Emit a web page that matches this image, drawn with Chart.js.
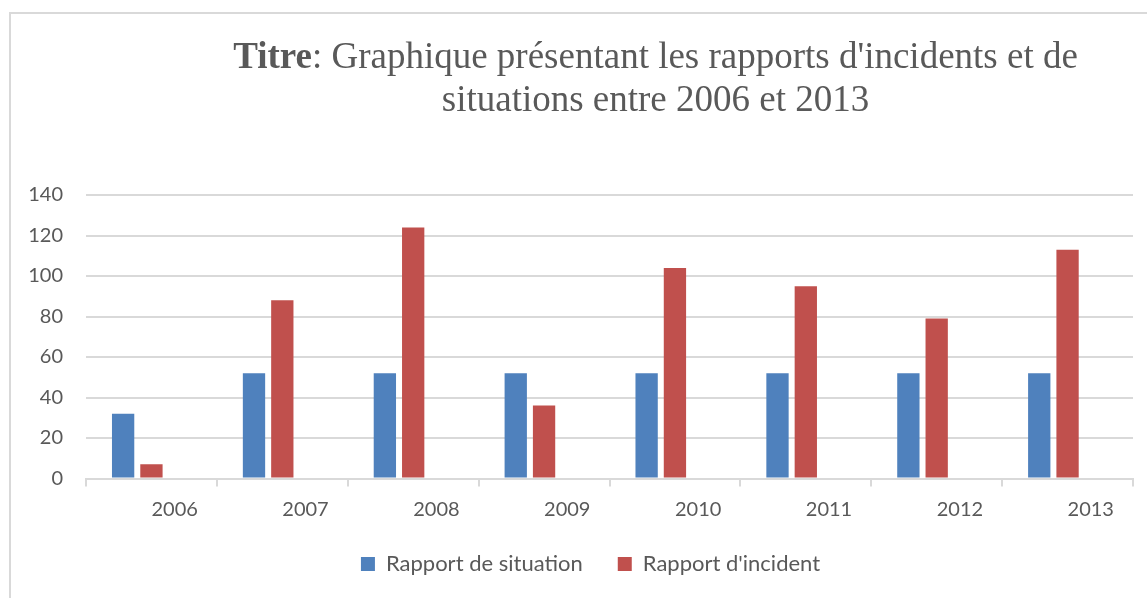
<!DOCTYPE html>
<html>
<head>
<meta charset="utf-8">
<script src="https://cdn.jsdelivr.net/npm/chart.js@4.4.1/dist/chart.umd.min.js"></script>
<style>
  html, body { margin: 0; padding: 0; background: #fff; overflow: hidden; }
  #wrap { position: relative; width: 1147px; height: 598px; }
</style>
</head>
<body>
<div id="wrap"><canvas id="c"></canvas></div>
<script>
// ---- data ----
const years = ['2006', '2007', '2008', '2009', '2010', '2011', '2012', '2013'];
const rapportSituation = [32, 52, 52, 52, 52, 52, 52, 52];
const rapportIncident = [7, 88, 124, 36, 104, 95, 79, 113];
const emptySeries = [null, null, null, null, null, null, null, null];
const seriesNames = ['Rapport de situation', "Rapport d'incident"];
const yTicksMax = 140;
const yTicksStep = 20;
const titleBold = 'Titre';
const titleRest = ": Graphique présentant les rapports d'incidents et de";
const titleLine2 = 'situations entre 2006 et 2013';

const GREY_TEXT = '#595959';
const GRID = '#d9d9d9';
const FONT = 'Lato';

const framePlugin = {
  id: 'frame',
  beforeDraw(chart) {
    const ctx = chart.ctx;
    ctx.save();
    ctx.fillStyle = '#ffffff';
    ctx.fillRect(0, 0, chart.width, chart.height);
    ctx.strokeStyle = GRID;
    ctx.lineWidth = 2;
    ctx.beginPath();
    ctx.moveTo(10, chart.height);
    ctx.lineTo(10, 13);
    ctx.lineTo(chart.width, 13);
    ctx.stroke();
    ctx.restore();
  },
  afterLayout(chart) {
    const lg = chart.legend;
    if (lg) { lg.left -= 19; lg.right -= 19; }
  },
  afterDraw(chart) {
    const ctx = chart.ctx;
    ctx.save();
    ctx.fillStyle = GREY_TEXT;
    ctx.textBaseline = 'alphabetic';
    ctx.textAlign = 'left';
    const cx = 655.5;
    ctx.font = 'bold 37px "Liberation Serif"';
    const wB = ctx.measureText(titleBold).width;
    ctx.font = '37px "Liberation Serif"';
    const wR = ctx.measureText(titleRest).width;
    let x = cx - (wB + wR) / 2;
    ctx.font = 'bold 37px "Liberation Serif"';
    ctx.fillText(titleBold, x, 68);
    ctx.font = '37px "Liberation Serif"';
    ctx.fillText(titleRest, x + wB, 68);
    ctx.textAlign = 'center';
    ctx.fillText(titleLine2, cx, 110.5);
    ctx.restore();
  }
};

new Chart(document.getElementById('c'), {
  type: 'bar',
  data: {
    labels: years,
    datasets: [
      { label: seriesNames[0], data: rapportSituation, backgroundColor: '#4f81bd' },
      { label: seriesNames[1], data: rapportIncident, backgroundColor: '#c0504d' },
      { label: '', data: emptySeries, backgroundColor: 'rgba(0,0,0,0)' }
    ]
  },
  options: {
    responsive: true,
    maintainAspectRatio: false,
    animation: false,
    devicePixelRatio: 1,
    layout: { padding: { left: 0, right: 14, top: 195, bottom: 13 } },
    datasets: { bar: { categoryPercentage: 0.649, barPercentage: 0.788 } },
    scales: {
      x: {
        afterFit(scale) { scale.height = 39.5; },
        grid: { display: true, drawOnChartArea: false, drawTicks: true, tickLength: 8, color: GRID, lineWidth: 2, offset: true },
        border: { display: true, color: GRID, width: 2 },
        ticks: { align: 'start', padding: 11, color: GREY_TEXT, font: { family: FONT, size: 20 } }
      },
      y: {
        min: 0,
        max: yTicksMax,
        afterFit(scale) { scale.width = 86; },
        grid: { color: GRID, lineWidth: 2, drawTicks: false },
        border: { display: false },
        ticks: { stepSize: yTicksStep, padding: 23, color: GREY_TEXT, font: { family: FONT, size: 20 } }
      }
    },
    plugins: {
      title: { display: false },
      tooltip: { enabled: false },
      legend: {
        position: 'bottom',
        fullSize: false,
        labels: {
          boxWidth: 14,
          boxHeight: 14,
          padding: 35,
          color: GREY_TEXT,
          font: { family: FONT, size: 22 },
          filter: (item) => item.text !== ''
        }
      }
    }
  },
  plugins: [framePlugin]
});
</script>
</body>
</html>
